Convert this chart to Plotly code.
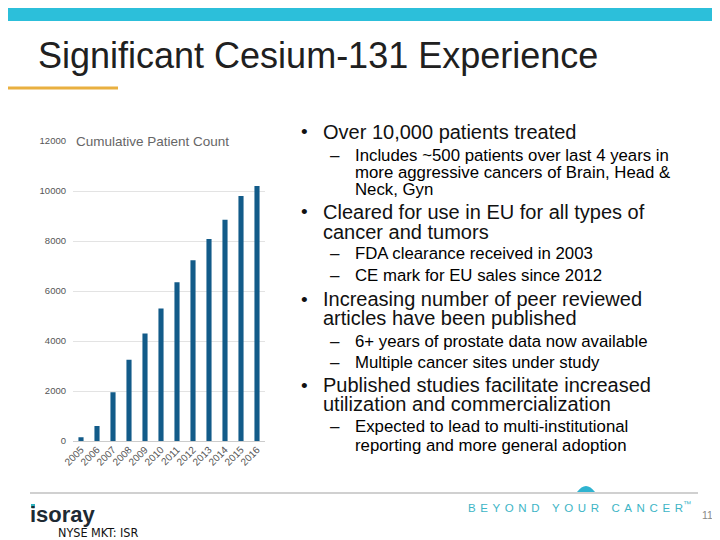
import plotly.graph_objects as go

# ── chart data ──────────────────────────────────────────────────────────────
years = ["2005", "2006", "2007", "2008", "2009", "2010",
         "2011", "2012", "2013", "2014", "2015", "2016"]
patients = [150, 600, 1950, 3250, 4300, 5300, 6350, 7230, 8080, 8850, 9800, 10200]
y_ticks = [0, 2000, 4000, 6000, 8000, 10000, 12000]

chart_title = "Cumulative Patient Count"
slide_title = "Significant Cesium-131 Experience"

# bullet text, (level, y position in px, text)
#   1 = main bullet, 9 = main bullet continuation, 2 = sub bullet, 0 = sub continuation
bullets = [
    (1, 132, "Over 10,000 patients treated"),
    (2, 155, "Includes ~500 patients over last 4 years in"),
    (0, 172, "more aggressive cancers of Brain, Head &"),
    (0, 189, "Neck, Gyn"),
    (1, 212, "Cleared for use in EU for all types of"),
    (9, 232, "cancer and tumors"),
    (2, 254, "FDA clearance received in 2003"),
    (2, 275, "CE mark for EU sales since 2012"),
    (1, 299, "Increasing number of peer reviewed"),
    (9, 318, "articles have been published"),
    (2, 341, "6+ years of prostate data now available"),
    (2, 362, "Multiple cancer sites under study"),
    (1, 385, "Published studies facilitate increased"),
    (9, 404, "utilization and commercialization"),
    (2, 426, "Expected to lead to multi-institutional"),
    (0, 445, "reporting and more general adoption"),
]

# the page puts the figure 8px in from the top-left corner (body margin),
# so the figure is 8px smaller and all positions are given in screen pixels
OFF = 8
W, H = 720 - OFF, 540 - OFF
FONT = "Liberation Sans, Arial, sans-serif"
TEAL = "#2CBFDA"


def px(x):
    return (x - OFF) / W


def py(y):
    return 1 - (y - OFF) / H


def label(text, x, y, size, color="#111111", family=FONT, **kw):
    return dict(text=text, xref="paper", yref="paper", x=px(x), y=py(y),
                xanchor="left", yanchor="middle", showarrow=False,
                font=dict(family=family, size=size, color=color), **kw)


fig = go.Figure()

fig.add_trace(go.Bar(
    x=years, y=patients,
    marker=dict(color="#125B89", line=dict(width=0)),
    hoverinfo="x+y",
))

annotations = []
shapes = []

# slide decorations
shapes.append(dict(type="rect", xref="paper", yref="paper",
                   x0=0, x1=1, y0=py(21), y1=1,
                   fillcolor=TEAL, line=dict(width=0), layer="below"))
shapes.append(dict(type="line", xref="paper", yref="paper",
                   x0=0, x1=px(118), y0=py(88), y1=py(88),
                   line=dict(color="#E9B040", width=3)))
shapes.append(dict(type="line", xref="paper", yref="paper",
                   x0=px(30), x1=px(698), y0=py(493), y1=py(493),
                   line=dict(color="#D0D0D0", width=2)))
# small teal half disc of the "beyond your cancer" mark
shapes.append(dict(type="path", xref="paper", yref="paper",
                   path=f"M {px(577)},{py(492)} Q {px(586)},{py(480)} {px(595)},{py(492)} Z",
                   fillcolor="#2FB3D0", line=dict(width=0)))

annotations.append(label(slide_title, 36, 55, 36, color="#202020"))
annotations.append(label(chart_title, 74, 142, 13.5, color="#666666", bgcolor="white"))

for level, y, line in bullets:
    if level == 1:
        annotations.append(label("•", 299, y, 19))
    if level == 2:
        annotations.append(label("–", 328, y, 17))
    if level in (1, 9):
        annotations.append(label(line, 321, y, 20))
    else:
        annotations.append(label(line, 353, y, 16.8, color="#000000"))

# footer
annotations.append(label("<b>isoray</b>", 28, 514, 22, color="#1E2A33"))
shapes.append(dict(type="rect", xref="paper", yref="paper",
                   x0=px(31), x1=px(35), y0=py(508), y1=py(504),
                   fillcolor="#2FB3C0", line=dict(width=0)))
annotations.append(label("NYSE MKT: ISR", 56, 532, 12.5,
                         family="Liberation Sans Narrow, DejaVu Sans Condensed, sans-serif"))
spaced = "\u2009\u2009".join("BEYOND YOUR CANCER")
annotations.append(label(spaced + "<sup>™</sup>", 466, 507, 11.5, color="#3DB5C6"))
annotations.append(label("11", 700, 515, 10.5, color="#888888"))

fig.update_layout(
    template="none",
    width=W, height=H,
    margin=dict(l=0, r=0, t=0, b=0, pad=0, autoexpand=False),
    paper_bgcolor="white", plot_bgcolor="white",
    showlegend=False,
    bargap=0.68,
    xaxis=dict(
        domain=[px(73), px(265)],
        type="category",
        tickangle=-45,
        tickfont=dict(family=FONT, size=10, color="#555555"),
        showgrid=False, showline=False, ticks="", automargin=False,
    ),
    yaxis=dict(
        domain=[py(441), py(141)],
        range=[0, 12000],
        tickvals=y_ticks,
        tickformat="d",
        tickfont=dict(family=FONT, size=9.5, color="#555555"),
        gridcolor="#E3E3E3", gridwidth=1,
        zeroline=True, zerolinecolor="#CCCCCC", zerolinewidth=1,
        showline=False, ticks="", ticklabelstandoff=6, automargin=False,
    ),
    shapes=shapes,
    annotations=annotations,
)

fig.write_html("out.html")
